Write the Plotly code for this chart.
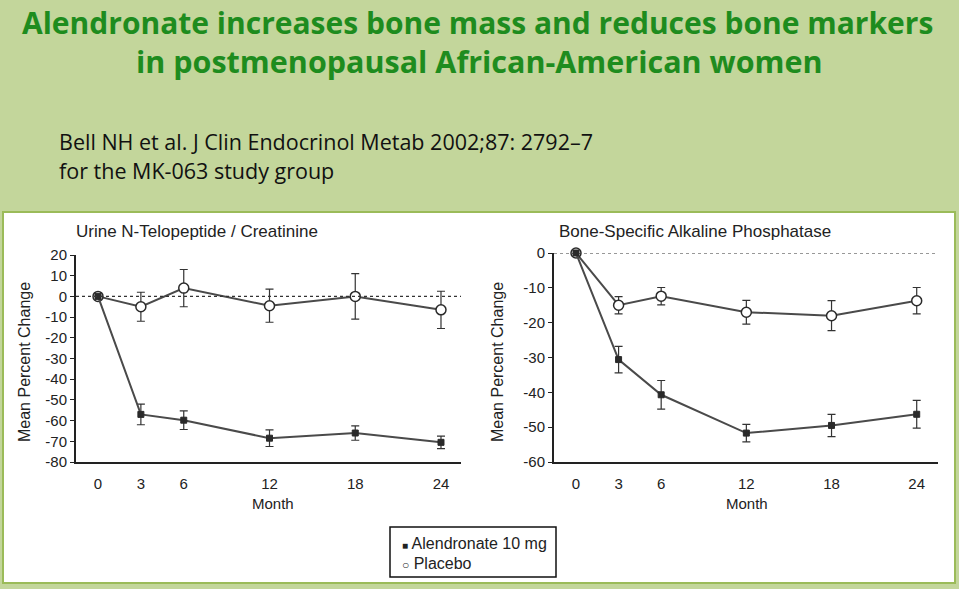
import plotly.graph_objects as go

months = [0, 3, 6, 12, 18, 24]

# Urine N-Telopeptide / Creatinine (mean % change)
ntx_alen = [0, -57, -59.8, -68.5, -66, -70.5]
ntx_alen_err = [0, 5, 4.5, 4, 3.5, 3]
ntx_plac = [0, -5, 4, -4.5, 0, -6.5]
ntx_plac_err = [0, 7, 9, 8, 11, 9]

# Bone-specific alkaline phosphatase (mean % change)
bsap_alen = [0, -30.6, -40.7, -51.7, -49.5, -46.3]
bsap_alen_err = [0, 3.8, 4.1, 2.5, 3.2, 4]
bsap_plac = [0, -15, -12.4, -17, -18, -13.7]
bsap_plac_err = [0, 2.5, 2.5, 3.4, 4.3, 3.8]

left_yticks = [20, 10, 0, -10, -20, -30, -40, -50, -60, -70, -80]
right_yticks = [0, -10, -20, -30, -40, -50, -60]

title_l1 = "Alendronate increases bone mass and reduces bone markers"
title_l2 = "in postmenopausal African-American women"
cite_l1 = "Bell NH et al. J Clin Endocrinol Metab 2002;87: 2792\u20137"
cite_l2 = "for the MK-063 study group"
legend_names = ["Alendronate 10 mg", "Placebo"]

W, H = 959, 589
def px(x): return x / W
def py(y): return 1 - y / H

LINE = "#4a4a4a"
INK = "#222222"
FONT = "Liberation Sans, Arial, sans-serif"

fig = go.Figure()

def add_series(xa, ya, y, err, kind, name):
    if kind == "alen":
        marker = dict(symbol="square", size=6, color="#2a2a2a", line=dict(color="#2a2a2a", width=1))
    else:
        marker = dict(symbol="circle", size=10, color="white", line=dict(color="#2a2a2a", width=1.5))
    fig.add_trace(go.Scatter(
        x=months, y=y, xaxis=xa, yaxis=ya, mode="lines+markers", name=name,
        line=dict(color=LINE, width=2), marker=marker,
        error_y=dict(type="data", array=err, visible=True, color="#333333", thickness=1.2, width=4),
        showlegend=False, cliponaxis=False))

add_series("x", "y", ntx_plac, ntx_plac_err, "plac", legend_names[1])
add_series("x", "y", ntx_alen, ntx_alen_err, "alen", legend_names[0])
add_series("x2", "y2", bsap_plac, bsap_plac_err, "plac", legend_names[1])
add_series("x2", "y2", bsap_alen, bsap_alen_err, "alen", legend_names[0])

ax_common = dict(showgrid=False, zeroline=False, showline=True, linecolor=INK, linewidth=2,
                 tickcolor=INK, tickfont=dict(family=FONT, size=15, color=INK))

fig.update_layout(
    width=W, height=H, margin=dict(l=0, r=0, t=0, b=0, autoexpand=False),
    paper_bgcolor="#c3d69b", plot_bgcolor="rgba(0,0,0,0)",
    xaxis=dict(domain=[px(76), px(461)], range=[-1.54, 25.4], tickvals=months, anchor="y",
               ticks="", ticklabelstandoff=7, **ax_common),
    yaxis=dict(domain=[py(462), py(255)], range=[-80, 20], tickvals=left_yticks,
               ticktext=[str(v) for v in left_yticks], anchor="x", ticks="outside", ticklen=4, **ax_common),
    xaxis2=dict(domain=[px(554), px(938)], range=[-1.55, 25.5], tickvals=months, anchor="y2",
                ticks="", ticklabelstandoff=7, **ax_common),
    yaxis2=dict(domain=[py(462), py(253)], range=[-60, 0], tickvals=right_yticks,
                ticktext=[str(v) for v in right_yticks], anchor="x2", ticks="outside", ticklen=4, **ax_common),
    showlegend=False,
)

shapes = [
    dict(type="rect", xref="paper", yref="paper", x0=px(3), x1=px(955), y0=py(583), y1=py(212),
         fillcolor="white", line=dict(color="#9bbb59", width=2), layer="below"),
    dict(type="line", xref="x domain", yref="y", x0=0, x1=1, y0=0, y1=0,
         line=dict(color="#333", width=1.2, dash="dot")),
    dict(type="line", xref="x2 domain", yref="y2", x0=0, x1=1, y0=0, y1=0,
         line=dict(color="#333", width=1.2, dash="dot")),
    # legend box
    dict(type="rect", xref="paper", yref="paper", x0=px(390), x1=px(556), y0=py(577), y1=py(527),
         fillcolor="white", line=dict(color="#111", width=1.5)),
]
fig.update_layout(shapes=shapes)

TF = "Open Sans, sans-serif"
ann = [
    dict(text=f"<b>{title_l1}</b>", x=px(477), y=1, yanchor="top", font=dict(family=TF, size=30, color="#1e8c1e")),
    dict(text=f"<b>{title_l2}</b>", x=px(479), y=py(61), font=dict(family=TF, size=30.5, color="#1e8c1e")),
    dict(text=cite_l1, x=px(57), y=py(141), xanchor="left", font=dict(family=TF, size=21.5, color="#111")),
    dict(text=cite_l2, x=px(57), y=py(170), xanchor="left", font=dict(family=TF, size=21.5, color="#111")),
    dict(text="Urine N-Telopeptide / Creatinine", x=px(74), y=py(231), xanchor="left",
         font=dict(family=FONT, size=17, color=INK)),
    dict(text="Bone-Specific Alkaline Phosphatase", x=px(557), y=py(231), xanchor="left",
         font=dict(family=FONT, size=17, color=INK)),
    dict(text="Mean Percent Change", x=px(24), y=py(362), textangle=-90, font=dict(family=FONT, size=16, color=INK)),
    dict(text="Mean Percent Change", x=px(497), y=py(362), textangle=-90, font=dict(family=FONT, size=16, color=INK)),
    dict(text="Month", x=px(273), y=py(503), font=dict(family=FONT, size=15, color=INK)),
    dict(text="Month", x=px(747), y=py(503), font=dict(family=FONT, size=15, color=INK)),
    dict(text="<span style='font-size:10px'>\u25a0</span> " + legend_names[0], x=px(400), y=py(543),
         xanchor="left", font=dict(family=FONT, size=16, color=INK)),
    dict(text="<span style='font-size:12px'>\u25cb</span> " + legend_names[1], x=px(400), y=py(563),
         xanchor="left", font=dict(family=FONT, size=16, color=INK)),
]
for a in ann:
    a.setdefault("xanchor", "center")
    a.setdefault("yanchor", "middle")
    a.update(xref="paper", yref="paper", showarrow=False)
fig.update_layout(annotations=ann)

fig.write_html("out.html", config={"displayModeBar": False},
               post_script="document.body.style.margin='0';document.body.style.padding='0';")
